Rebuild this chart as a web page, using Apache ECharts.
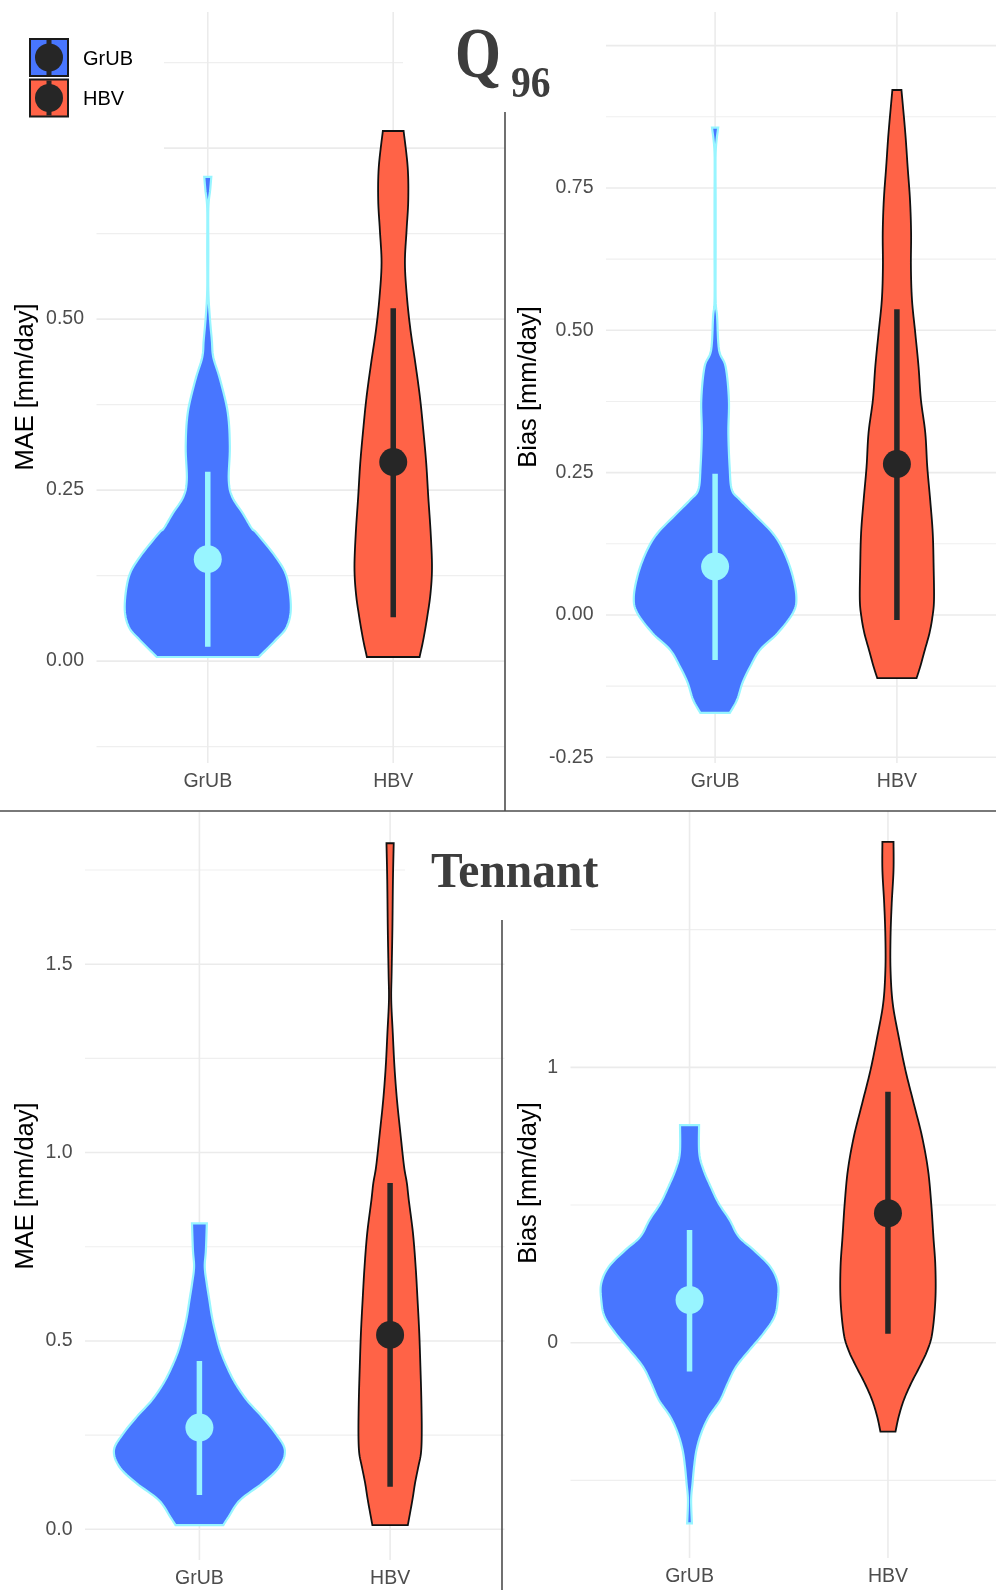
<!DOCTYPE html>
<html>
<head>
<meta charset="utf-8">
<script src="https://cdn.jsdelivr.net/npm/echarts@6/dist/echarts.min.js"></script>
<style>
html, body { margin: 0; padding: 0; background: #fff; }
#chart { width: 996px; height: 1590px; }
</style>
</head>
<body>
<div id="chart"></div>
<script>
var categories = ["GrUB", "HBV"];

// violin outlines: y values and half widths (in category units)
var q96MaeGrubY = [0.708, 0.689, 0.662, 0.601, 0.542, 0.503, 0.469, 0.444, 0.411, 0.363, 0.313, 0.265, 0.240, 0.216, 0.194, 0.187, 0.152, 0.123, 0.079, 0.050, 0.031, 0.006];
var q96MaeGrubW = [0.019, 0.013, 0.003, 0.003, 0.003, 0.011, 0.022, 0.030, 0.067, 0.108, 0.119, 0.113, 0.132, 0.189, 0.237, 0.264, 0.367, 0.426, 0.448, 0.426, 0.367, 0.275];
var q96MaeHbvY = [0.775, 0.722, 0.674, 0.630, 0.582, 0.532, 0.484, 0.436, 0.386, 0.338, 0.289, 0.240, 0.187, 0.137, 0.099, 0.064, 0.031, 0.006];
var q96MaeHbvW = [0.056, 0.078, 0.081, 0.072, 0.063, 0.074, 0.093, 0.119, 0.144, 0.162, 0.178, 0.189, 0.202, 0.209, 0.201, 0.183, 0.162, 0.142];

var q96BiasGrubY = [0.856, 0.812, 0.729, 0.641, 0.553, 0.524, 0.465, 0.436, 0.378, 0.320, 0.260, 0.220, 0.202, 0.179, 0.144, 0.114, 0.074, 0.032, 0.004, -0.032, -0.061, -0.091, -0.119, -0.149, -0.172];
var q96BiasGrubW = [0.017, 0.003, 0.003, 0.003, 0.003, 0.011, 0.022, 0.058, 0.076, 0.073, 0.080, 0.092, 0.138, 0.209, 0.316, 0.374, 0.422, 0.447, 0.429, 0.344, 0.248, 0.193, 0.151, 0.121, 0.081];
var q96BiasHbvY = [0.922, 0.847, 0.787, 0.729, 0.671, 0.611, 0.553, 0.495, 0.436, 0.378, 0.320, 0.260, 0.202, 0.144, 0.084, 0.026, -0.004, -0.032, -0.061, -0.091, -0.111];
var q96BiasHbvW = [0.025, 0.046, 0.059, 0.072, 0.078, 0.077, 0.083, 0.101, 0.119, 0.132, 0.156, 0.167, 0.183, 0.197, 0.202, 0.204, 0.195, 0.179, 0.154, 0.128, 0.108];

var tenMaeGrubY = [0.812, 0.741, 0.697, 0.654, 0.609, 0.564, 0.521, 0.476, 0.432, 0.388, 0.343, 0.299, 0.256, 0.211, 0.166, 0.123, 0.078, 0.033, 0.011];
var tenMaeGrubW = [0.039, 0.034, 0.028, 0.038, 0.052, 0.066, 0.085, 0.109, 0.144, 0.188, 0.249, 0.328, 0.397, 0.448, 0.420, 0.332, 0.214, 0.153, 0.125];
var tenMaeHbvY = [1.821, 1.724, 1.591, 1.477, 1.405, 1.318, 1.227, 1.140, 1.052, 0.964, 0.919, 0.874, 0.786, 0.697, 0.609, 0.521, 0.432, 0.343, 0.256, 0.203, 0.166, 0.123, 0.078, 0.011];
var tenMaeHbvW = [0.019, 0.015, 0.012, 0.008, 0.006, 0.014, 0.023, 0.036, 0.054, 0.073, 0.088, 0.098, 0.120, 0.134, 0.144, 0.153, 0.159, 0.164, 0.166, 0.162, 0.148, 0.131, 0.117, 0.093];

var tenBiasGrubY = [0.790, 0.688, 0.627, 0.566, 0.506, 0.446, 0.385, 0.337, 0.276, 0.216, 0.155, 0.094, 0.034, -0.027, -0.087, -0.147, -0.208, -0.269, -0.329, -0.390, -0.450, -0.511, -0.571, -0.656];
var tenBiasGrubW = [0.048, 0.049, 0.071, 0.107, 0.147, 0.202, 0.248, 0.323, 0.407, 0.445, 0.445, 0.428, 0.373, 0.302, 0.235, 0.193, 0.155, 0.097, 0.059, 0.035, 0.023, 0.015, 0.008, 0.012];
var tenBiasHbvY = [1.819, 1.716, 1.596, 1.474, 1.353, 1.232, 1.111, 0.990, 0.869, 0.748, 0.627, 0.506, 0.385, 0.276, 0.155, 0.034, -0.027, -0.087, -0.147, -0.208, -0.269, -0.323];
var tenBiasHbvW = [0.028, 0.028, 0.019, 0.013, 0.013, 0.024, 0.054, 0.088, 0.130, 0.172, 0.202, 0.218, 0.229, 0.239, 0.239, 0.223, 0.199, 0.160, 0.117, 0.080, 0.054, 0.038];

// median, low, high of the point ranges
var q96MaeGrubStat = [0.149, 0.021, 0.277];
var q96MaeHbvStat = [0.291, 0.064, 0.516];
var q96BiasGrubStat = [0.085, -0.079, 0.248];
var q96BiasHbvStat = [0.265, -0.009, 0.537];
var tenMaeGrubStat = [0.270, 0.091, 0.447];
var tenMaeHbvStat = [0.516, 0.113, 0.919];
var tenBiasGrubStat = [0.155, -0.105, 0.409];
var tenBiasHbvStat = [0.470, 0.032, 0.911];

// tick labels and grid lines
var q96MaeLabels = [0, 0.25, 0.5];
var q96MaeBreaks = [0, 0.25, 0.5, 0.75];
var q96MaeMinor = [-0.125, 0.125, 0.375, 0.625, 0.875];
var q96BiasLabels = [-0.25, 0, 0.25, 0.5, 0.75];
var q96BiasBreaks = [-0.25, 0, 0.25, 0.5, 0.75, 1];
var q96BiasMinor = [-0.125, 0.125, 0.375, 0.625, 0.875];
var tenMaeLabels = [0, 0.5, 1, 1.5];
var tenMaeBreaks = [0, 0.5, 1, 1.5];
var tenMaeMinor = [0.25, 0.75, 1.25, 1.75];
var tenBiasLabels = [0, 1];
var tenBiasBreaks = [0, 1];
var tenBiasMinor = [-0.5, 0.5, 1.5];

var BLUE = "#4876FF", CYAN = "#98F5FF", RED = "#FF6347", DARK = "#262626";
var SANS = "Liberation Sans, Arial, sans-serif";
var SERIF = "Liberation Serif, Times New Roman, serif";

var panels = [
    { left: 96.5, top: 12, width: 408, height: 751, min: -0.149, max: 0.949, dec: 2, labels: q96MaeLabels, breaks: q96MaeBreaks, minor: q96MaeMinor,
      violins: [[q96MaeGrubY, q96MaeGrubW, q96MaeGrubStat], [q96MaeHbvY, q96MaeHbvW, q96MaeHbvStat]] },
    { left: 606, top: 12, width: 400, height: 751, min: -0.26, max: 1.059, dec: 2, labels: q96BiasLabels, breaks: q96BiasBreaks, minor: q96BiasMinor,
      violins: [[q96BiasGrubY, q96BiasGrubW, q96BiasGrubStat], [q96BiasHbvY, q96BiasHbvW, q96BiasHbvStat]] },
    { left: 85, top: 812, width: 419.5, height: 748, min: -0.0815, max: 1.904, dec: 1, labels: tenMaeLabels, breaks: tenMaeBreaks, minor: tenMaeMinor,
      violins: [[tenMaeGrubY, tenMaeGrubW, tenMaeGrubStat], [tenMaeHbvY, tenMaeHbvW, tenMaeHbvStat]] },
    { left: 570.5, top: 811, width: 436.5, height: 747, min: -0.782, max: 1.931, dec: 0, labels: tenBiasLabels, breaks: tenBiasBreaks, minor: tenBiasMinor,
      violins: [[tenBiasGrubY, tenBiasGrubW, tenBiasGrubStat], [tenBiasHbvY, tenBiasHbvW, tenBiasHbvStat]] }
];

function hLines(p, vals, width, color) {
    return {
        type: "custom", xAxisIndex: p, yAxisIndex: p, z: 1, silent: true,
        data: vals.map(function (v) { return [v]; }),
        renderItem: function (params, api) {
            var cs = params.coordSys;
            var y = api.coord([1, api.value(0)])[1];
            return { type: "line", shape: { x1: cs.x, y1: y, x2: cs.x + cs.width, y2: y }, style: { stroke: color, lineWidth: width } };
        }
    };
}

function vLines(p, vals, width, color) {
    return {
        type: "custom", xAxisIndex: p, yAxisIndex: p, z: 1, silent: true,
        data: vals.map(function (v) { return [v]; }),
        renderItem: function (params, api) {
            var cs = params.coordSys;
            var x = api.coord([api.value(0), 0])[0];
            return { type: "line", shape: { x1: x, y1: cs.y, x2: x, y2: cs.y + cs.height }, style: { stroke: color, lineWidth: width } };
        }
    };
}

// catmull-rom through the right-hand outline, so the sides are smooth but the trimmed ends stay flat
function smoothSide(pts, cx) {
    var out = [], n = pts.length, steps = 8;
    for (var i = 0; i < n - 1; i++) {
        var p0 = pts[Math.max(i - 1, 0)], p1 = pts[i], p2 = pts[i + 1], p3 = pts[Math.min(i + 2, n - 1)];
        for (var s = 0; s < steps; s++) {
            var t = s / steps, t2 = t * t, t3 = t2 * t;
            var x = 0.5 * ((2 * p1[0]) + (-p0[0] + p2[0]) * t + (2 * p0[0] - 5 * p1[0] + 4 * p2[0] - p3[0]) * t2 + (-p0[0] + 3 * p1[0] - 3 * p2[0] + p3[0]) * t3);
            var y = 0.5 * ((2 * p1[1]) + (-p0[1] + p2[1]) * t + (2 * p0[1] - 5 * p1[1] + 4 * p2[1] - p3[1]) * t2 + (-p0[1] + 3 * p1[1] - 3 * p2[1] + p3[1]) * t3);
            out.push([Math.max(x, cx + 0.4), y]);
        }
    }
    out.push(pts[n - 1]);
    return out;
}

function violin(p, cat, ys, ws, fill, edge, edgeWidth) {
    return {
        type: "custom", xAxisIndex: p, yAxisIndex: p, z: 2, silent: true, clip: false,
        data: [[cat]],
        renderItem: function (params, api) {
            var cx = api.coord([cat, 0])[0], side = [], i;
            for (i = 0; i < ys.length; i++) side.push(api.coord([cat + ws[i], ys[i]]));
            var right = smoothSide(side, cx);
            var pts = right.slice();
            for (i = right.length - 1; i >= 0; i--) pts.push([2 * cx - right[i][0], right[i][1]]);
            return { type: "polygon", shape: { points: pts }, style: { fill: fill, stroke: edge, lineWidth: edgeWidth, lineJoin: "miter" } };
        }
    };
}

function pointRange(p, cat, stat, color) {
    return {
        type: "custom", xAxisIndex: p, yAxisIndex: p, z: 3, silent: true, clip: false,
        data: [[cat]],
        renderItem: function (params, api) {
            var lo = api.coord([cat, stat[1]]), hi = api.coord([cat, stat[2]]), md = api.coord([cat, stat[0]]);
            return {
                type: "group",
                children: [
                    { type: "line", shape: { x1: lo[0], y1: lo[1], x2: hi[0], y2: hi[1] }, style: { stroke: color, lineWidth: 5.5 } },
                    { type: "circle", shape: { cx: md[0], cy: md[1], r: 14 }, style: { fill: color } }
                ]
            };
        }
    };
}

var grids = [], xAxes = [], yAxes = [], series = [];
panels.forEach(function (pn, p) {
    grids.push({ left: pn.left, top: pn.top, width: pn.width, height: pn.height, containLabel: false, outerBoundsMode: "none" });
    xAxes.push({
        gridIndex: p, type: "value", min: 0.4, max: 2.6,
        axisLine: { show: false }, axisTick: { show: false }, splitLine: { show: false },
        axisLabel: {
            customValues: [1, 2], margin: 9, color: "#4d4d4d", fontSize: 19.5, fontFamily: SANS,
            formatter: function (v) { return categories[Math.round(v) - 1] || ""; }
        }
    });
    yAxes.push({
        gridIndex: p, type: "value", min: pn.min, max: pn.max,
        axisLine: { show: false }, axisTick: { show: false }, splitLine: { show: false },
        axisLabel: {
            customValues: pn.labels, margin: 12.5, color: "#4d4d4d", fontSize: 19.5, fontFamily: SANS,
            showMinLabel: true, showMaxLabel: true,
            formatter: function (v) { return v.toFixed(pn.dec); }
        }
    });
    series.push(hLines(p, pn.minor, 1.1, "#efefef"));
    series.push(hLines(p, pn.breaks, 1.6, "#ebebeb"));
    series.push(vLines(p, [1, 2], 1.6, "#ebebeb"));
    series.push(violin(p, 1, pn.violins[0][0], pn.violins[0][1], BLUE, CYAN, 2.2));
    series.push(violin(p, 2, pn.violins[1][0], pn.violins[1][1], RED, "#111", 1.8));
    series.push(pointRange(p, 1, pn.violins[0][2], CYAN));
    series.push(pointRange(p, 2, pn.violins[1][2], DARK));
});

function txt(x, y, text, size, opts) {
    opts = opts || {};
    return {
        type: "text", x: x, y: y, z: 120, rotation: opts.rotation || 0, scaleX: opts.scaleX || 1, silent: true,
        style: {
            x: 0, y: 0, text: text, fill: opts.color || "#000",
            fontSize: size, fontFamily: opts.family || SANS, fontWeight: opts.weight || "normal",
            align: opts.align || "left", verticalAlign: "middle",
            textAlign: opts.align || "left", textVerticalAlign: "middle"
        }
    };
}

function rect(x, y, w, h, fill, stroke) {
    return { type: "rect", z: 110, silent: true, shape: { x: x, y: y, width: w, height: h },
             style: { fill: fill, stroke: stroke || null, lineWidth: stroke ? 2 : 0 } };
}

function seg(x1, y1, x2, y2, color, w) {
    return { type: "line", z: 115, silent: true, shape: { x1: x1, y1: y1, x2: x2, y2: y2 }, style: { stroke: color, lineWidth: w } };
}

var graphics = [
    // white patches of the collage
    rect(0, 0, 164, 200, "#fff"),
    rect(403, 0, 203, 112, "#fff"),
    rect(405, 812, 165, 108, "#fff"),
    // dividers
    seg(0, 811, 996, 811, "#4d4d4d", 1.6),
    seg(505, 112, 505, 811, "#4d4d4d", 1.6),
    seg(502, 920, 502, 1590, "#4d4d4d", 1.6),
    // legend
    rect(30, 39, 38, 37, BLUE, "#1a1a1a"),
    rect(30, 79.5, 38, 37, RED, "#1a1a1a"),
    seg(49, 40, 49, 75, DARK, 5),
    seg(49, 80.5, 49, 115.5, DARK, 5),
    { type: "circle", z: 116, silent: true, shape: { cx: 49, cy: 57.5, r: 14 }, style: { fill: DARK } },
    { type: "circle", z: 116, silent: true, shape: { cx: 49, cy: 98, r: 14 }, style: { fill: DARK } },
    txt(83, 59, "GrUB", 20),
    txt(83, 99, "HBV", 20),
    // titles
    txt(455, 58, "Q", 72, { family: SERIF, weight: "bold", color: "#3d3d3d", scaleX: 0.82 }),
    txt(511, 86, "96", 44, { family: SERIF, weight: "bold", color: "#3d3d3d", scaleX: 0.9 }),
    txt(431, 874, "Tennant", 50, { family: SERIF, weight: "bold", color: "#3d3d3d", scaleX: 0.95 }),
    // axis titles
    txt(26, 387, "MAE [mm/day]", 25.5, { rotation: Math.PI / 2, align: "center" }),
    txt(529, 387, "Bias [mm/day]", 25.5, { rotation: Math.PI / 2, align: "center" }),
    txt(26, 1186, "MAE [mm/day]", 25.5, { rotation: Math.PI / 2, align: "center" }),
    txt(529, 1183, "Bias [mm/day]", 25.5, { rotation: Math.PI / 2, align: "center" })
];

var chart = echarts.init(document.getElementById("chart"), null, { renderer: "canvas" });
chart.setOption({
    animation: false,
    backgroundColor: "#fff",
    grid: grids,
    xAxis: xAxes,
    yAxis: yAxes,
    series: series,
    graphic: { elements: graphics }
});
</script>
</body>
</html>
